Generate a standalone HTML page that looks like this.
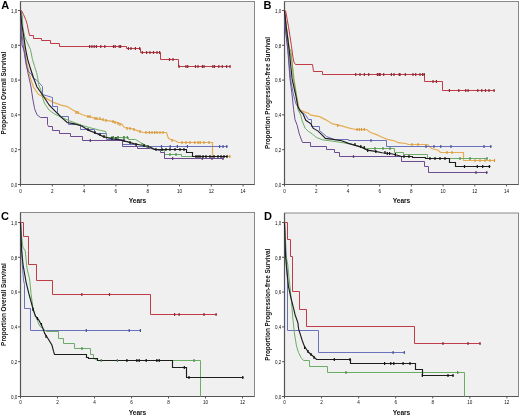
<!DOCTYPE html>
<html><head><meta charset="utf-8"><style>
html,body{margin:0;padding:0;background:#fff;width:520px;height:415px;overflow:hidden}
</style></head><body>
<svg width="520" height="415" viewBox="0 0 520 415" style="display:block;filter:blur(0.35px)">
<rect x="0" y="0" width="520" height="415" fill="#fff"/>
<rect x="20.5" y="1.5" width="234.0" height="183.0" fill="#f0f0f0" stroke="#8a8a8a" stroke-width="1"/>
<path d="M20.5 1.5 V184.5 H254.5" fill="none" stroke="#555" stroke-width="1.2"/>
<path d="M18.0 184.50 H20.5" stroke="#555" stroke-width="1"/>
<text x="17.3" y="186.70" text-anchor="end" font-size="4.5" fill="#111" font-family="Liberation Sans, sans-serif">0,0</text>
<path d="M18.0 149.70 H20.5" stroke="#555" stroke-width="1"/>
<text x="17.3" y="151.90" text-anchor="end" font-size="4.5" fill="#111" font-family="Liberation Sans, sans-serif">0,2</text>
<path d="M18.0 114.90 H20.5" stroke="#555" stroke-width="1"/>
<text x="17.3" y="117.10" text-anchor="end" font-size="4.5" fill="#111" font-family="Liberation Sans, sans-serif">0,4</text>
<path d="M18.0 80.10 H20.5" stroke="#555" stroke-width="1"/>
<text x="17.3" y="82.30" text-anchor="end" font-size="4.5" fill="#111" font-family="Liberation Sans, sans-serif">0,6</text>
<path d="M18.0 45.30 H20.5" stroke="#555" stroke-width="1"/>
<text x="17.3" y="47.50" text-anchor="end" font-size="4.5" fill="#111" font-family="Liberation Sans, sans-serif">0,8</text>
<path d="M18.0 10.50 H20.5" stroke="#555" stroke-width="1"/>
<text x="17.3" y="12.70" text-anchor="end" font-size="4.5" fill="#111" font-family="Liberation Sans, sans-serif">1,0</text>
<path d="M20.50 184.5 V186.5" stroke="#555" stroke-width="1"/>
<text x="20.50" y="192.90" text-anchor="middle" font-size="4.6" fill="#111" font-family="Liberation Sans, sans-serif">0</text>
<path d="M52.30 184.5 V186.5" stroke="#555" stroke-width="1"/>
<text x="52.30" y="192.90" text-anchor="middle" font-size="4.6" fill="#111" font-family="Liberation Sans, sans-serif">2</text>
<path d="M84.10 184.5 V186.5" stroke="#555" stroke-width="1"/>
<text x="84.10" y="192.90" text-anchor="middle" font-size="4.6" fill="#111" font-family="Liberation Sans, sans-serif">4</text>
<path d="M115.90 184.5 V186.5" stroke="#555" stroke-width="1"/>
<text x="115.90" y="192.90" text-anchor="middle" font-size="4.6" fill="#111" font-family="Liberation Sans, sans-serif">6</text>
<path d="M147.70 184.5 V186.5" stroke="#555" stroke-width="1"/>
<text x="147.70" y="192.90" text-anchor="middle" font-size="4.6" fill="#111" font-family="Liberation Sans, sans-serif">8</text>
<path d="M179.50 184.5 V186.5" stroke="#555" stroke-width="1"/>
<text x="179.50" y="192.90" text-anchor="middle" font-size="4.6" fill="#111" font-family="Liberation Sans, sans-serif">10</text>
<path d="M211.30 184.5 V186.5" stroke="#555" stroke-width="1"/>
<text x="211.30" y="192.90" text-anchor="middle" font-size="4.6" fill="#111" font-family="Liberation Sans, sans-serif">12</text>
<path d="M243.10 184.5 V186.5" stroke="#555" stroke-width="1"/>
<text x="243.10" y="192.90" text-anchor="middle" font-size="4.6" fill="#111" font-family="Liberation Sans, sans-serif">14</text>
<text x="137.50" y="202.80" text-anchor="middle" font-size="6.6" font-weight="bold" fill="#111" font-family="Liberation Sans, sans-serif">Years</text>
<text transform="translate(6.00,93.00) rotate(-90)" text-anchor="middle" font-size="6.4" font-weight="bold" fill="#111" font-family="Liberation Sans, sans-serif">Proportion Overall Survival</text>
<text x="1.2" y="9.1" font-size="11" font-weight="bold" fill="#000" font-family="Liberation Sans, sans-serif">A</text>
<rect x="284.5" y="1.5" width="234.0" height="183.0" fill="#f0f0f0" stroke="#8a8a8a" stroke-width="1"/>
<path d="M284.5 1.5 V184.5 H518.5" fill="none" stroke="#555" stroke-width="1.2"/>
<path d="M282.0 184.50 H284.5" stroke="#555" stroke-width="1"/>
<text x="281.3" y="186.70" text-anchor="end" font-size="4.5" fill="#111" font-family="Liberation Sans, sans-serif">0,0</text>
<path d="M282.0 149.70 H284.5" stroke="#555" stroke-width="1"/>
<text x="281.3" y="151.90" text-anchor="end" font-size="4.5" fill="#111" font-family="Liberation Sans, sans-serif">0,2</text>
<path d="M282.0 114.90 H284.5" stroke="#555" stroke-width="1"/>
<text x="281.3" y="117.10" text-anchor="end" font-size="4.5" fill="#111" font-family="Liberation Sans, sans-serif">0,4</text>
<path d="M282.0 80.10 H284.5" stroke="#555" stroke-width="1"/>
<text x="281.3" y="82.30" text-anchor="end" font-size="4.5" fill="#111" font-family="Liberation Sans, sans-serif">0,6</text>
<path d="M282.0 45.30 H284.5" stroke="#555" stroke-width="1"/>
<text x="281.3" y="47.50" text-anchor="end" font-size="4.5" fill="#111" font-family="Liberation Sans, sans-serif">0,8</text>
<path d="M282.0 10.50 H284.5" stroke="#555" stroke-width="1"/>
<text x="281.3" y="12.70" text-anchor="end" font-size="4.5" fill="#111" font-family="Liberation Sans, sans-serif">1,0</text>
<path d="M284.50 184.5 V186.5" stroke="#555" stroke-width="1"/>
<text x="284.50" y="192.90" text-anchor="middle" font-size="4.6" fill="#111" font-family="Liberation Sans, sans-serif">0</text>
<path d="M316.22 184.5 V186.5" stroke="#555" stroke-width="1"/>
<text x="316.22" y="192.90" text-anchor="middle" font-size="4.6" fill="#111" font-family="Liberation Sans, sans-serif">2</text>
<path d="M347.94 184.5 V186.5" stroke="#555" stroke-width="1"/>
<text x="347.94" y="192.90" text-anchor="middle" font-size="4.6" fill="#111" font-family="Liberation Sans, sans-serif">4</text>
<path d="M379.66 184.5 V186.5" stroke="#555" stroke-width="1"/>
<text x="379.66" y="192.90" text-anchor="middle" font-size="4.6" fill="#111" font-family="Liberation Sans, sans-serif">6</text>
<path d="M411.38 184.5 V186.5" stroke="#555" stroke-width="1"/>
<text x="411.38" y="192.90" text-anchor="middle" font-size="4.6" fill="#111" font-family="Liberation Sans, sans-serif">8</text>
<path d="M443.10 184.5 V186.5" stroke="#555" stroke-width="1"/>
<text x="443.10" y="192.90" text-anchor="middle" font-size="4.6" fill="#111" font-family="Liberation Sans, sans-serif">10</text>
<path d="M474.82 184.5 V186.5" stroke="#555" stroke-width="1"/>
<text x="474.82" y="192.90" text-anchor="middle" font-size="4.6" fill="#111" font-family="Liberation Sans, sans-serif">12</text>
<path d="M506.54 184.5 V186.5" stroke="#555" stroke-width="1"/>
<text x="506.54" y="192.90" text-anchor="middle" font-size="4.6" fill="#111" font-family="Liberation Sans, sans-serif">14</text>
<text x="401.50" y="202.80" text-anchor="middle" font-size="6.6" font-weight="bold" fill="#111" font-family="Liberation Sans, sans-serif">Years</text>
<text transform="translate(270.00,93.00) rotate(-90)" text-anchor="middle" font-size="6.4" font-weight="bold" fill="#111" font-family="Liberation Sans, sans-serif">Proportion Progression-free Survival</text>
<text x="263.6" y="9.4" font-size="11" font-weight="bold" fill="#000" font-family="Liberation Sans, sans-serif">B</text>
<rect x="20.5" y="212.5" width="234.0" height="184.0" fill="#f0f0f0" stroke="#8a8a8a" stroke-width="1"/>
<path d="M20.5 212.5 V396.5 H254.5" fill="none" stroke="#555" stroke-width="1.2"/>
<path d="M18.0 396.50 H20.5" stroke="#555" stroke-width="1"/>
<text x="17.3" y="398.70" text-anchor="end" font-size="4.5" fill="#111" font-family="Liberation Sans, sans-serif">0,0</text>
<path d="M18.0 361.70 H20.5" stroke="#555" stroke-width="1"/>
<text x="17.3" y="363.90" text-anchor="end" font-size="4.5" fill="#111" font-family="Liberation Sans, sans-serif">0,2</text>
<path d="M18.0 326.90 H20.5" stroke="#555" stroke-width="1"/>
<text x="17.3" y="329.10" text-anchor="end" font-size="4.5" fill="#111" font-family="Liberation Sans, sans-serif">0,4</text>
<path d="M18.0 292.10 H20.5" stroke="#555" stroke-width="1"/>
<text x="17.3" y="294.30" text-anchor="end" font-size="4.5" fill="#111" font-family="Liberation Sans, sans-serif">0,6</text>
<path d="M18.0 257.30 H20.5" stroke="#555" stroke-width="1"/>
<text x="17.3" y="259.50" text-anchor="end" font-size="4.5" fill="#111" font-family="Liberation Sans, sans-serif">0,8</text>
<path d="M18.0 222.50 H20.5" stroke="#555" stroke-width="1"/>
<text x="17.3" y="224.70" text-anchor="end" font-size="4.5" fill="#111" font-family="Liberation Sans, sans-serif">1,0</text>
<path d="M20.50 396.5 V398.5" stroke="#555" stroke-width="1"/>
<text x="20.50" y="404.30" text-anchor="middle" font-size="4.6" fill="#111" font-family="Liberation Sans, sans-serif">0</text>
<path d="M57.50 396.5 V398.5" stroke="#555" stroke-width="1"/>
<text x="57.50" y="404.30" text-anchor="middle" font-size="4.6" fill="#111" font-family="Liberation Sans, sans-serif">2</text>
<path d="M94.50 396.5 V398.5" stroke="#555" stroke-width="1"/>
<text x="94.50" y="404.30" text-anchor="middle" font-size="4.6" fill="#111" font-family="Liberation Sans, sans-serif">4</text>
<path d="M131.50 396.5 V398.5" stroke="#555" stroke-width="1"/>
<text x="131.50" y="404.30" text-anchor="middle" font-size="4.6" fill="#111" font-family="Liberation Sans, sans-serif">6</text>
<path d="M168.50 396.5 V398.5" stroke="#555" stroke-width="1"/>
<text x="168.50" y="404.30" text-anchor="middle" font-size="4.6" fill="#111" font-family="Liberation Sans, sans-serif">8</text>
<path d="M205.50 396.5 V398.5" stroke="#555" stroke-width="1"/>
<text x="205.50" y="404.30" text-anchor="middle" font-size="4.6" fill="#111" font-family="Liberation Sans, sans-serif">10</text>
<path d="M242.50 396.5 V398.5" stroke="#555" stroke-width="1"/>
<text x="242.50" y="404.30" text-anchor="middle" font-size="4.6" fill="#111" font-family="Liberation Sans, sans-serif">12</text>
<text x="137.50" y="414.80" text-anchor="middle" font-size="6.6" font-weight="bold" fill="#111" font-family="Liberation Sans, sans-serif">Years</text>
<text transform="translate(6.00,304.50) rotate(-90)" text-anchor="middle" font-size="6.4" font-weight="bold" fill="#111" font-family="Liberation Sans, sans-serif">Proportion Overall Survival</text>
<text x="1" y="220.3" font-size="11" font-weight="bold" fill="#000" font-family="Liberation Sans, sans-serif">C</text>
<rect x="284.5" y="213.0" width="234.0" height="183.5" fill="#f0f0f0" stroke="#8a8a8a" stroke-width="1"/>
<path d="M284.5 213.0 V396.5 H518.5" fill="none" stroke="#555" stroke-width="1.2"/>
<path d="M282.0 396.50 H284.5" stroke="#555" stroke-width="1"/>
<text x="281.3" y="398.70" text-anchor="end" font-size="4.5" fill="#111" font-family="Liberation Sans, sans-serif">0,0</text>
<path d="M282.0 361.70 H284.5" stroke="#555" stroke-width="1"/>
<text x="281.3" y="363.90" text-anchor="end" font-size="4.5" fill="#111" font-family="Liberation Sans, sans-serif">0,2</text>
<path d="M282.0 326.90 H284.5" stroke="#555" stroke-width="1"/>
<text x="281.3" y="329.10" text-anchor="end" font-size="4.5" fill="#111" font-family="Liberation Sans, sans-serif">0,4</text>
<path d="M282.0 292.10 H284.5" stroke="#555" stroke-width="1"/>
<text x="281.3" y="294.30" text-anchor="end" font-size="4.5" fill="#111" font-family="Liberation Sans, sans-serif">0,6</text>
<path d="M282.0 257.30 H284.5" stroke="#555" stroke-width="1"/>
<text x="281.3" y="259.50" text-anchor="end" font-size="4.5" fill="#111" font-family="Liberation Sans, sans-serif">0,8</text>
<path d="M282.0 222.50 H284.5" stroke="#555" stroke-width="1"/>
<text x="281.3" y="224.70" text-anchor="end" font-size="4.5" fill="#111" font-family="Liberation Sans, sans-serif">1,0</text>
<path d="M284.50 396.5 V398.5" stroke="#555" stroke-width="1"/>
<text x="284.50" y="404.30" text-anchor="middle" font-size="4.6" fill="#111" font-family="Liberation Sans, sans-serif">0</text>
<path d="M321.56 396.5 V398.5" stroke="#555" stroke-width="1"/>
<text x="321.56" y="404.30" text-anchor="middle" font-size="4.6" fill="#111" font-family="Liberation Sans, sans-serif">2</text>
<path d="M358.62 396.5 V398.5" stroke="#555" stroke-width="1"/>
<text x="358.62" y="404.30" text-anchor="middle" font-size="4.6" fill="#111" font-family="Liberation Sans, sans-serif">4</text>
<path d="M395.68 396.5 V398.5" stroke="#555" stroke-width="1"/>
<text x="395.68" y="404.30" text-anchor="middle" font-size="4.6" fill="#111" font-family="Liberation Sans, sans-serif">6</text>
<path d="M432.74 396.5 V398.5" stroke="#555" stroke-width="1"/>
<text x="432.74" y="404.30" text-anchor="middle" font-size="4.6" fill="#111" font-family="Liberation Sans, sans-serif">8</text>
<path d="M469.80 396.5 V398.5" stroke="#555" stroke-width="1"/>
<text x="469.80" y="404.30" text-anchor="middle" font-size="4.6" fill="#111" font-family="Liberation Sans, sans-serif">10</text>
<path d="M506.86 396.5 V398.5" stroke="#555" stroke-width="1"/>
<text x="506.86" y="404.30" text-anchor="middle" font-size="4.6" fill="#111" font-family="Liberation Sans, sans-serif">12</text>
<text x="401.50" y="414.80" text-anchor="middle" font-size="6.6" font-weight="bold" fill="#111" font-family="Liberation Sans, sans-serif">Years</text>
<text transform="translate(270.00,304.75) rotate(-90)" text-anchor="middle" font-size="6.4" font-weight="bold" fill="#111" font-family="Liberation Sans, sans-serif">Proportion Progression-free Survival</text>
<text x="264" y="219.8" font-size="11" font-weight="bold" fill="#000" font-family="Liberation Sans, sans-serif">D</text>
<path d="M20.5,10.5 L21.5,25 L23.8,40 L25.2,54.4 L27.6,66 L30.5,78.5 L33.4,87 L38.3,94.3 L45.5,97.9 L52.7,102.1 L61.1,105.1 L67.2,106.6 L74.5,110.9 L81.7,114.5 L88.9,116.7 L97.6,118.8 L106.2,120.3 L113.5,121.7 L121.7,124.1 L124.4,127.5 L132.5,128.8 L137.9,130.9 L143.5,132.5 H166.5 L168.5,138.5 L175.6,141 L178.5,142.5 H212.5 V156.5 H230.5" fill="none" stroke="#e7ac52" stroke-width="1.2" stroke-linejoin="miter"/>
<path d="M20.5,10.5 L21.5,30 L23.8,49.6 L25.2,59.2 L26.7,67 L28.6,71.7 L31.3,74 L33.4,78.5 L36.4,79.8 L42.5,86.5 V94.5 L52.5,97.5 V106.5 H57.5 V112.5 L60.5,116.5 H68.5 V124.5 H80.5 V129.5 H94.5 V133.5 H106.5 V139.5 H122.5 V144.5 H136.5 V146.5 H227.5" fill="none" stroke="#6a72bc" stroke-width="1.0" stroke-linejoin="miter"/>
<path d="M20.5,10.5 L22.3,15.7 L22.8,27.2 L24.7,36.8 L27.5,43 L30.5,49.6 L32.4,59.2 L34.6,66.5 L36.6,72.5 L37.8,78.5 L38.6,84.6 L40.7,89.5 L43,99 L44.9,104 L49.1,110 L53.9,113.6 L61.1,117.2 L69.6,120.8 L81.7,125.3 L91.8,128.2 L100.5,130.4 L105.8,131.5 L106.5,137.5 H128.5 V139.5 H135.5 L140.5,142.5 L150,147.5 L160.5,150.5 H164.5 V154.5 H181.5 V156.5 H204.5" fill="none" stroke="#6cad66" stroke-width="1.0" stroke-linejoin="miter"/>
<path d="M20.5,10.5 L21,30 L22,45 L24.7,52.5 L26.2,64 L28.1,73.7 L29.5,80 L31,87 L32.8,99 L34.6,108.7 L37,114.8 L40.5,117.5 H47.5 V124.5 L48.5,126.5 H52.5 V130.5 H59.5 V133.5 H70.5 V136.5 H82.5 V140.5 H122.5 V146.5 H137.5 V148.5 H150.5 L160.5,150.5 V152.5 H164.5 V158.5 H223.5" fill="none" stroke="#6c4c8e" stroke-width="1.0" stroke-linejoin="miter"/>
<path d="M20.5,10.5 L21.5,22 L23.4,34 L24.25,40 L25.7,49.6 L27.6,59.2 L30.5,68.8 L33.4,77.5 L37,87 L43,95.5 L49.1,105 L55.1,111.1 L61.1,117.2 L67.2,122.5 L74.5,123.9 L81.7,126 L88.9,130.4 L96.1,133.3 L103.4,136.6 L109.6,138.3 L119.2,139.7 L126.9,141.6 L133.7,143.6 L140.4,145 L150,147 L154.5,149.5 H186.5 V152.5 H192.5 V156.5 H227.5" fill="none" stroke="#1e1e1e" stroke-width="1.15" stroke-linejoin="miter"/>
<path d="M20.5,10.5 H21.5 L23.5,14.5 L25.7,19.5 L27.2,24.3 L28.1,29.1 L29.5,35.5 H33.5 V38.5 H41.5 V40.5 H50.5 V43.5 H59.5 V46.5 H126.5 V48.5 H140.5 V52.5 H160.5 V59.5 H178.5 V66.5 H230.5" fill="none" stroke="#bf3b46" stroke-width="1.0" stroke-linejoin="miter"/>
<path d="M284.5,10.5 L286.3,26.7 L289.2,48.4 L292.1,62.8 L294,78.9 L296.5,95 L299.3,109.5 L303.7,111.6 L308,113.1 L310.9,115.2 L319.6,116.7 L325.4,119.6 L332.6,123.9 L341.7,125.9 L348.5,127.9 L355.5,129.5 H366.5 L370.5,132.5 L376.7,134.6 L382.1,137.3 L387.5,139.3 L394.2,140.7 L398.3,142.7 L405.8,143.5 L408.5,144.5 H427.5 L431.5,148.5 L438.1,150.2 L440.5,152.5 H463.5 V160.5 H494.5" fill="none" stroke="#e7ac52" stroke-width="1.2" stroke-linejoin="miter"/>
<path d="M284.5,10.5 L285.5,30 L288,50 L290.5,78.9 L293.5,95 L296,104 L300,110 L305.8,115.2 L308.5,119.5 H311.5 V126.5 H319.5 V130.5 L326.5,136.5 L334.5,139.5 H348.5 V140.5 H386.5 V146.5 H491.5" fill="none" stroke="#6a72bc" stroke-width="1.0" stroke-linejoin="miter"/>
<path d="M284.5,10.5 L286.3,26.7 L289.2,48.4 L290.7,50 L292.1,62.8 L293.6,78.9 L297.2,100.6 L297.9,109.5 L300.8,115.2 L302.2,121 L305.1,128.2 L308,131.1 L312.3,134 L316.7,137.6 L322.5,139.8 L332.6,141.2 L342,142.5 L355,145 L366.5,148.5 H394.5 V152.5 H403.5 V154.5 H427.5 V158.5 H487.5" fill="none" stroke="#6cad66" stroke-width="1.0" stroke-linejoin="miter"/>
<path d="M284.5,10.5 L285.5,30 L287.8,50 L290,78.9 L292.1,95 L293.6,109.5 L295,119.6 L297.2,125.3 L299.3,134 L302.5,142.5 H310.5 V146.5 H326.5 V149.5 H334.5 V152.5 H339.5 V156.5 H401.5 V161.5 H424.5 V166.5 H428.5 V172.5 H487.5" fill="none" stroke="#6c4c8e" stroke-width="1.0" stroke-linejoin="miter"/>
<path d="M284.5,10.5 L286,25 L289.2,50 L292.1,78.9 L295.7,95 L297.9,106.6 L300.1,110.9 L303,113.8 L305.8,120.3 L310.9,123.9 L313.1,128.2 L318.1,131.1 L321.7,134.7 L325.4,138.4 L331.1,139.1 L341.7,140.7 L348.5,143.4 L355.2,145.4 L361.9,147.4 L367.3,150.1 L375.4,151.4 L382.1,152.8 L391.5,153.7 L398.3,155.5 L401.5,156.5 H412.5 V157.5 H425.5 V158.5 H449.5 V162.5 H455.5 V166.5 H490.5" fill="none" stroke="#1e1e1e" stroke-width="1.15" stroke-linejoin="miter"/>
<path d="M284.5,10.5 L285.6,10.8 L288.5,26.7 L291.4,45.5 L292.6,55 L293.8,61.9 L295.5,64.5 H312.5 L313.5,71.5 H322.5 V74.5 H424.5 V81.5 H442.5 V90.5 H494.5" fill="none" stroke="#bf3b46" stroke-width="1.0" stroke-linejoin="miter"/>
<path d="M20.5,222.5 L21.5,245 L22.3,264.5 L23.5,280 L24.5,284.5 V308.5 H30.5 V330.5 H140.5" fill="none" stroke="#6a72bc" stroke-width="1.0" stroke-linejoin="miter"/>
<path d="M20.5,222.5 L21.5,235 L22.8,247 L25.3,251 L26.7,266 L27.8,272 L29.6,278.9 L31,293.4 L33.2,310 L36.8,318.9 L39.7,326.1 L46.5,331.5 H58.5 V338.5 H63.5 V343.5 H74.5 V348.5 H90.5 V354.5 H93.5 V358.5 L98.5,360.5 H200.5 V396.5" fill="none" stroke="#6cad66" stroke-width="1.0" stroke-linejoin="miter"/>
<path d="M20.5,222.5 L21.2,240 L21.6,250 L23,264.5 L26,281.8 L28.8,293.4 L32.5,307 L35.3,316 L39,320.3 L42.6,327.6 L44.7,333.4 L48.1,338.8 L51.9,345 L53.5,351.2 L54.5,354.5 H86.5 V357.5 H88.5 V358.5 H97.5 V360.5 H172.5 V367.5 H186.5 V377.5 H243.5" fill="none" stroke="#1e1e1e" stroke-width="1.15" stroke-linejoin="miter"/>
<path d="M20.5,222.5 H23.5 V236.5 H28.5 V250.5 H28.5 V264.5 H36.5 V280.5 H52.5 V294.5 H150.5 V314.5 H216.5" fill="none" stroke="#bf3b46" stroke-width="1.0" stroke-linejoin="miter"/>
<path d="M284.5,222.5 L285.5,240 L286.5,262 L287.5,280.5 V330.5 H318.5 V352.5 H404.5" fill="none" stroke="#6a72bc" stroke-width="1.0" stroke-linejoin="miter"/>
<path d="M284.5,222.5 L285.2,240 L285.5,252.6 L286.3,257 L287.8,265 L288.5,272.8 L290,286.7 L291.4,301.1 L292.8,318 L294.5,334 L296.5,346 L298.5,352.5 L301,357.5 L303.5,360.5 H309.5 V366.5 H327.5 V372.5 H464.5 V396.5" fill="none" stroke="#6cad66" stroke-width="1.0" stroke-linejoin="miter"/>
<path d="M284.5,222.5 L285,240 L285.5,255 L286.3,265 L288.5,286.7 L290.7,296.8 L293.6,308.4 L295,314.5 L297.9,322.8 L298.6,328.9 L302.2,340.5 L304.4,346.2 L308.5,352.3 L313.1,356.2 L316.5,359.5 H350.5 V363.5 H415.5 V369.5 H422.5 V375.5 H453.5" fill="none" stroke="#1e1e1e" stroke-width="1.15" stroke-linejoin="miter"/>
<path d="M284.5,222.5 H287.5 V239.5 H290.5 V256.5 H292.5 V291.5 H299.5 V309.5 H306.5 V326.5 H414.5 V343.5 H480.5" fill="none" stroke="#bf3b46" stroke-width="1.0" stroke-linejoin="miter"/>
<path d="M89.6 45.1 V47.9 M91.9 45.1 V47.9 M94.2 45.1 V47.9 M96.4 45.1 V47.9 M100.8 45.1 V47.9 M104.8 45.1 V47.9 M113.5 45.1 V47.9 M115.2 45.1 V47.9 M119.2 45.1 V47.9 M120.6 45.1 V47.9" fill="none" stroke="#8c2a36" stroke-width="1.2"/>
<path d="M128.4 47.1 V49.9 M131 47.1 V49.9 M135.4 47.1 V49.9 M139.7 47.1 V49.9" fill="none" stroke="#8c2a36" stroke-width="1.2"/>
<path d="M142.3 51.1 V53.9 M146.6 51.1 V53.9 M150 51.1 V53.9 M153.5 51.1 V53.9 M157 51.1 V53.9 M159.6 51.1 V53.9" fill="none" stroke="#8c2a36" stroke-width="1.2"/>
<path d="M169.5 58.1 V60.9 M173 58.1 V60.9" fill="none" stroke="#8c2a36" stroke-width="1.2"/>
<path d="M179 65.1 V67.9 M186 65.1 V67.9 M187.7 65.1 V67.9 M195.5 65.1 V67.9 M198 65.1 V67.9 M202.4 65.1 V67.9 M204 65.1 V67.9 M212.8 65.1 V67.9 M214.5 65.1 V67.9 M218.8 65.1 V67.9 M222.3 65.1 V67.9 M226.6 65.1 V67.9 M230 65.1 V67.9" fill="none" stroke="#8c2a36" stroke-width="1.2"/>
<path d="M149.3 131.1 V133.9 M154.7 131.1 V133.9 M160 131.1 V133.9" fill="none" stroke="#d49a3e" stroke-width="1.2"/>
<path d="M190 141.1 V143.9 M194.8 141.1 V143.9 M198.2 141.1 V143.9 M200.2 141.1 V143.9 M209 141.1 V143.9" fill="none" stroke="#d49a3e" stroke-width="1.2"/>
<path d="M229.8 155.1 V157.9" fill="none" stroke="#d49a3e" stroke-width="1.2"/>
<path d="M88 115.1 V117.9" fill="none" stroke="#d49a3e" stroke-width="1.2"/>
<path d="M106 119.1 V121.9" fill="none" stroke="#d49a3e" stroke-width="1.2"/>
<path d="M130 127.1 V129.9" fill="none" stroke="#d49a3e" stroke-width="1.2"/>
<path d="M161.5 145.1 V147.9 M170.2 145.1 V147.9 M177.4 145.1 V147.9 M187.4 145.1 V147.9 M219.6 145.1 V147.9 M223 145.1 V147.9 M226.8 145.1 V147.9" fill="none" stroke="#4a5096" stroke-width="1.2"/>
<path d="M162 148.1 V150.9 M166 148.1 V150.9 M170 148.1 V150.9 M175 148.1 V150.9 M180 148.1 V150.9 M184 148.1 V150.9" fill="none" stroke="#111111" stroke-width="1.2"/>
<path d="M196 155.1 V157.9 M198 155.1 V157.9 M200 155.1 V157.9 M203 155.1 V157.9 M206 155.1 V157.9 M210 155.1 V157.9 M214 155.1 V157.9 M218 155.1 V157.9 M221 155.1 V157.9 M224 155.1 V157.9 M227 155.1 V157.9" fill="none" stroke="#111111" stroke-width="1.2"/>
<path d="M90.3 139.1 V141.9" fill="none" stroke="#553a72" stroke-width="1.2"/>
<path d="M172.6 157.1 V159.9 M202.3 157.1 V159.9 M212 157.1 V159.9 M223 157.1 V159.9" fill="none" stroke="#553a72" stroke-width="1.2"/>
<path d="M112 136.1 V138.9 M118 136.1 V138.9 M124 136.1 V138.9" fill="none" stroke="#4c8a4c" stroke-width="1.2"/>
<path d="M170 153.1 V155.9 M176 153.1 V155.9" fill="none" stroke="#4c8a4c" stroke-width="1.2"/>
<path d="M355.7 73.1 V75.9 M360 73.1 V75.9 M364.4 73.1 V75.9 M368.7 73.1 V75.9 M377.4 73.1 V75.9 M379 73.1 V75.9 M380.2 73.1 V75.9 M383.7 73.1 V75.9 M391.4 73.1 V75.9 M394 73.1 V75.9 M399.2 73.1 V75.9 M400 73.1 V75.9 M405.3 73.1 V75.9 M413 73.1 V75.9 M415.7 73.1 V75.9 M420 73.1 V75.9 M422.6 73.1 V75.9 M424.3 73.1 V75.9" fill="none" stroke="#8c2a36" stroke-width="1.2"/>
<path d="M433 80.1 V82.9 M436.4 80.1 V82.9" fill="none" stroke="#8c2a36" stroke-width="1.2"/>
<path d="M449.4 89.1 V91.9 M458.8 89.1 V91.9 M465.7 89.1 V91.9 M468.1 89.1 V91.9 M477.8 89.1 V91.9 M481.8 89.1 V91.9 M485.5 89.1 V91.9 M489 89.1 V91.9 M494.1 89.1 V91.9" fill="none" stroke="#8c2a36" stroke-width="1.2"/>
<path d="M353.5 155.1 V157.9" fill="none" stroke="#553a72" stroke-width="1.2"/>
<path d="M476 171.1 V173.9 M486.7 171.1 V173.9" fill="none" stroke="#553a72" stroke-width="1.2"/>
<path d="M371 139.1 V141.9" fill="none" stroke="#4a5096" stroke-width="1.2"/>
<path d="M426 145.1 V147.9 M434 145.1 V147.9 M440.8 145.1 V147.9 M451 145.1 V147.9 M484 145.1 V147.9 M490.8 145.1 V147.9" fill="none" stroke="#4a5096" stroke-width="1.2"/>
<path d="M464.5 165.1 V167.9 M477.3 165.1 V167.9 M482.7 165.1 V167.9 M489.4 165.1 V167.9" fill="none" stroke="#111111" stroke-width="1.2"/>
<path d="M430 157.1 V159.9 M435 157.1 V159.9 M440 157.1 V159.9 M445 157.1 V159.9" fill="none" stroke="#111111" stroke-width="1.2"/>
<path d="M404 155.1 V157.9 M409 155.1 V157.9" fill="none" stroke="#111111" stroke-width="1.2"/>
<path d="M357 128.1 V130.9 M359.3 128.1 V130.9 M361.5 128.1 V130.9 M364.3 128.1 V130.9" fill="none" stroke="#d49a3e" stroke-width="1.2"/>
<path d="M412 143.1 V145.9 M418 143.1 V145.9" fill="none" stroke="#d49a3e" stroke-width="1.2"/>
<path d="M447 151.1 V153.9 M452 151.1 V153.9" fill="none" stroke="#d49a3e" stroke-width="1.2"/>
<path d="M475 159.1 V161.9 M480 159.1 V161.9 M485 159.1 V161.9 M490 159.1 V161.9 M494.5 159.1 V161.9" fill="none" stroke="#d49a3e" stroke-width="1.2"/>
<path d="M460 157.1 V159.9 M470 157.1 V159.9 M487 157.1 V159.9" fill="none" stroke="#4c8a4c" stroke-width="1.2"/>
<path d="M375 147.1 V149.9 M383 147.1 V149.9 M390 147.1 V149.9" fill="none" stroke="#4c8a4c" stroke-width="1.2"/>
<path d="M81.8 293.1 V295.9 M109.5 293.1 V295.9" fill="none" stroke="#8c2a36" stroke-width="1.2"/>
<path d="M174.6 313.1 V315.9 M179.1 313.1 V315.9 M204 313.1 V315.9 M216.1 313.1 V315.9" fill="none" stroke="#8c2a36" stroke-width="1.2"/>
<path d="M86.3 329.1 V331.9 M129.2 329.1 V331.9 M140.4 329.1 V331.9" fill="none" stroke="#4a5096" stroke-width="1.2"/>
<path d="M126.9 359.1 V361.9 M136.9 359.1 V361.9 M139.2 359.1 V361.9 M146.2 359.1 V361.9 M156.9 359.1 V361.9 M159.2 359.1 V361.9" fill="none" stroke="#111111" stroke-width="1.2"/>
<path d="M184.3 366.1 V368.9" fill="none" stroke="#111111" stroke-width="1.2"/>
<path d="M189 376.1 V378.9 M242.8 376.1 V378.9" fill="none" stroke="#111111" stroke-width="1.2"/>
<path d="M82 347.1 V349.9" fill="none" stroke="#4c8a4c" stroke-width="1.2"/>
<path d="M101.2 359.1 V361.9 M117.3 359.1 V361.9 M194.1 359.1 V361.9" fill="none" stroke="#4c8a4c" stroke-width="1.2"/>
<path d="M443 342.1 V344.9 M468 342.1 V344.9 M480 342.1 V344.9" fill="none" stroke="#8c2a36" stroke-width="1.2"/>
<path d="M393.1 351.1 V353.9 M404.3 351.1 V353.9" fill="none" stroke="#4a5096" stroke-width="1.2"/>
<path d="M334.3 358.1 V360.9 M350 358.1 V360.9" fill="none" stroke="#111111" stroke-width="1.2"/>
<path d="M384.6 362.1 V364.9 M390.8 362.1 V364.9 M393.8 362.1 V364.9 M403.1 362.1 V364.9 M410 362.1 V364.9" fill="none" stroke="#111111" stroke-width="1.2"/>
<path d="M422.3 374.1 V376.9 M448 374.1 V376.9 M453 374.1 V376.9" fill="none" stroke="#111111" stroke-width="1.2"/>
<path d="M346 371.1 V373.9 M457.7 371.1 V373.9" fill="none" stroke="#4c8a4c" stroke-width="1.2"/>
<path d="M76 111.1 V113.9" fill="none" stroke="#d49a3e" stroke-width="1.2"/>
<path d="M78 111.1 V113.9" fill="none" stroke="#d49a3e" stroke-width="1.2"/>
<path d="M90 115.1 V117.9" fill="none" stroke="#d49a3e" stroke-width="1.2"/>
<path d="M95 117.1 V119.9" fill="none" stroke="#d49a3e" stroke-width="1.2"/>
<path d="M97 117.1 V119.9" fill="none" stroke="#d49a3e" stroke-width="1.2"/>
<path d="M100 117.1 V119.9" fill="none" stroke="#d49a3e" stroke-width="1.2"/>
<path d="M103 118.1 V120.9" fill="none" stroke="#d49a3e" stroke-width="1.2"/>
<path d="M113 120.1 V122.9" fill="none" stroke="#d49a3e" stroke-width="1.2"/>
<path d="M115 121.1 V123.9" fill="none" stroke="#d49a3e" stroke-width="1.2"/>
<path d="M118 122.1 V124.9" fill="none" stroke="#d49a3e" stroke-width="1.2"/>
<path d="M120 123.1 V125.9" fill="none" stroke="#d49a3e" stroke-width="1.2"/>
<path d="M127 127.1 V129.9" fill="none" stroke="#d49a3e" stroke-width="1.2"/>
<path d="M134 128.1 V130.9" fill="none" stroke="#d49a3e" stroke-width="1.2"/>
<path d="M140 130.1 V132.9" fill="none" stroke="#d49a3e" stroke-width="1.2"/>
<path d="M146 131.1 V133.9" fill="none" stroke="#d49a3e" stroke-width="1.2"/>
<path d="M152 131.1 V133.9" fill="none" stroke="#d49a3e" stroke-width="1.2"/>
<path d="M157 131.1 V133.9" fill="none" stroke="#d49a3e" stroke-width="1.2"/>
<path d="M163 131.1 V133.9" fill="none" stroke="#d49a3e" stroke-width="1.2"/>
<path d="M172 139.1 V141.9" fill="none" stroke="#d49a3e" stroke-width="1.2"/>
<path d="M182 141.1 V143.9" fill="none" stroke="#d49a3e" stroke-width="1.2"/>
<path d="M186 141.1 V143.9" fill="none" stroke="#d49a3e" stroke-width="1.2"/>
<path d="M204 141.1 V143.9" fill="none" stroke="#d49a3e" stroke-width="1.2"/>
<path d="M88 128.1 V130.9" fill="none" stroke="#111111" stroke-width="1.2"/>
<path d="M95 131.1 V133.9" fill="none" stroke="#111111" stroke-width="1.2"/>
<path d="M100 133.1 V135.9" fill="none" stroke="#111111" stroke-width="1.2"/>
<path d="M104 135.1 V137.9" fill="none" stroke="#111111" stroke-width="1.2"/>
<path d="M112 137.1 V139.9" fill="none" stroke="#111111" stroke-width="1.2"/>
<path d="M116 137.1 V139.9" fill="none" stroke="#111111" stroke-width="1.2"/>
<path d="M124 139.1 V141.9" fill="none" stroke="#111111" stroke-width="1.2"/>
<path d="M130 141.1 V143.9" fill="none" stroke="#111111" stroke-width="1.2"/>
<path d="M136 143.1 V145.9" fill="none" stroke="#111111" stroke-width="1.2"/>
<path d="M144 144.1 V146.9" fill="none" stroke="#111111" stroke-width="1.2"/>
<path d="M148 145.1 V147.9" fill="none" stroke="#111111" stroke-width="1.2"/>
<path d="M156 148.1 V150.9" fill="none" stroke="#111111" stroke-width="1.2"/>
<path d="M113.4 136.1 V138.9" fill="none" stroke="#4c8a4c" stroke-width="1.2"/>
<path d="M118 136.1 V138.9" fill="none" stroke="#4c8a4c" stroke-width="1.2"/>
<path d="M123.8 136.1 V138.9" fill="none" stroke="#4c8a4c" stroke-width="1.2"/>
<path d="M127.3 136.1 V138.9" fill="none" stroke="#4c8a4c" stroke-width="1.2"/>
<path d="M142 143.1 V145.9" fill="none" stroke="#4c8a4c" stroke-width="1.2"/>
<path d="M147 145.1 V147.9" fill="none" stroke="#4c8a4c" stroke-width="1.2"/>
<path d="M337.7 124.1 V126.9" fill="none" stroke="#d49a3e" stroke-width="1.2"/>
<path d="M304.6 346.1 V348.9" fill="none" stroke="#111111" stroke-width="1.2"/>
<path d="M308 350.1 V352.9" fill="none" stroke="#111111" stroke-width="1.2"/>
<path d="M311 353.1 V355.9" fill="none" stroke="#111111" stroke-width="1.2"/>
<path d="M314 356.1 V358.9" fill="none" stroke="#111111" stroke-width="1.2"/>
<path d="M33 308.1 V310.9" fill="none" stroke="#111111" stroke-width="1.2"/>
<path d="M37.5 317.1 V319.9" fill="none" stroke="#111111" stroke-width="1.2"/>
<path d="M41.5 323.1 V325.9" fill="none" stroke="#111111" stroke-width="1.2"/>
<path d="M46 335.1 V337.9" fill="none" stroke="#111111" stroke-width="1.2"/>
<path d="M355 143.1 V145.9" fill="none" stroke="#111111" stroke-width="1.2"/>
<path d="M360.8 145.1 V147.9" fill="none" stroke="#111111" stroke-width="1.2"/>
<path d="M364.2 146.1 V148.9" fill="none" stroke="#111111" stroke-width="1.2"/>
<path d="M367.7 149.1 V151.9" fill="none" stroke="#111111" stroke-width="1.2"/>
<path d="M375.8 150.1 V152.9" fill="none" stroke="#111111" stroke-width="1.2"/>
<path d="M385 151.1 V153.9" fill="none" stroke="#111111" stroke-width="1.2"/>
<path d="M387.3 152.1 V154.9" fill="none" stroke="#111111" stroke-width="1.2"/>
<path d="M389.6 152.1 V154.9" fill="none" stroke="#111111" stroke-width="1.2"/>
<path d="M395.4 153.1 V155.9" fill="none" stroke="#111111" stroke-width="1.2"/>
</svg>
</body></html>
